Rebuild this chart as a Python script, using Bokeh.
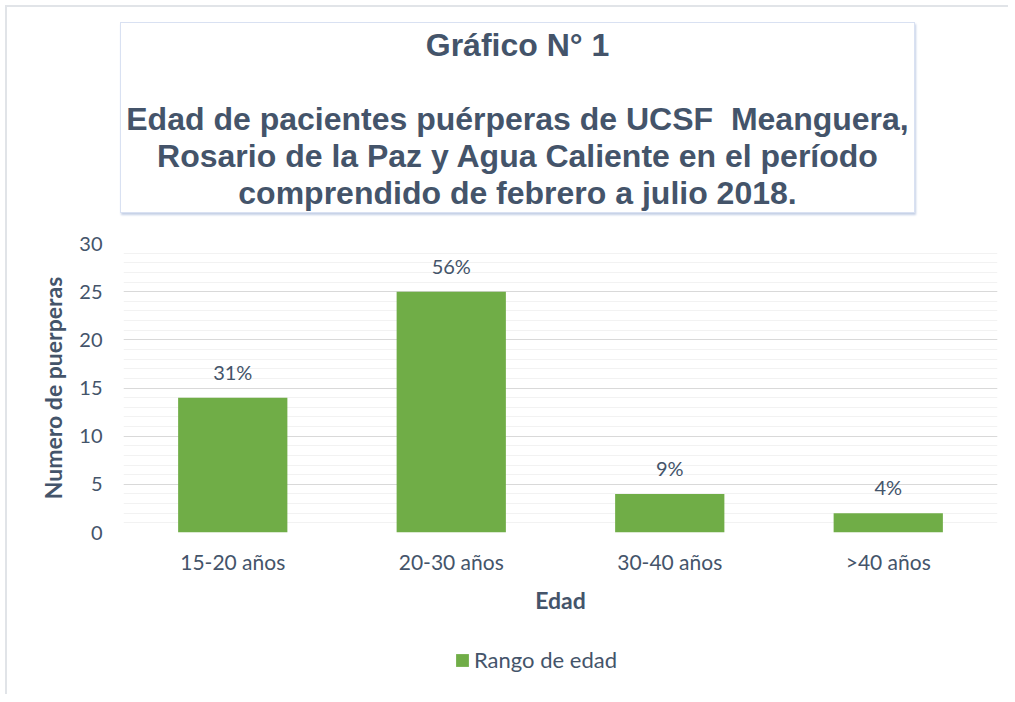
from bokeh.plotting import figure
from bokeh.models import (ColumnDataSource, FactorRange, LabelSet, Legend, Div,
                          SingleIntervalTicker, Range1d)
from bokeh.layouts import column
from bokeh.core.properties import value
from bokeh.embed import file_html
from bokeh.resources import INLINE

categories = ["15-20 años", "20-30 años", "30-40 años", ">40 años"]
counts = [14, 25, 4, 2]
percent_labels = ["31%", "56%", "9%", "4%"]
series_name = "Rango de edad"
title_lines = ["Gráfico N° 1", "",
               "Edad de pacientes puérperas de UCSF&nbsp; Meanguera,",
               "Rosario de la Paz y Agua Caliente en el período",
               "comprendido de febrero a julio 2018."]
y_label = "Numero de puerperas"
x_label = "Edad"

TXT = "#44546A"
BAR = "#70AD47"
EDGE = "#E1E4E8"

title_html = (
    '<div style="margin-left:120px; margin-top:22px; width:795px; height:191px; '
    'box-sizing:border-box; border:1px solid #D9E1F2; background:white; '
    'box-shadow:1px 2px 2px #C5D0E6; padding-top:4px; text-align:center; '
    "font-family:'Liberation Sans', Arial, sans-serif; font-weight:bold; "
    'font-size:32px; line-height:37px; color:' + TXT + '; white-space:nowrap;">'
    + "<br>".join(title_lines) + "</div>")
head = Div(text=title_html, width=1008, height=231, margin=0)

src = ColumnDataSource(dict(cat=categories, val=counts, pct=percent_labels))

p = figure(width=1008, height=394, x_range=FactorRange(*categories),
           y_range=(0, 30), output_backend="svg", toolbar_location=None,
           min_border_left=123, min_border_right=11, min_border_top=12,
           min_border_bottom=93, margin=0)
p.x_range.range_padding = 0
p.outline_line_color = None
p.background_fill_color = "white"
p.border_fill_alpha = 0

r = p.vbar(x="cat", top="val", width=0.5, source=src, fill_color=BAR,
           line_color=None)

p.yaxis.ticker = SingleIntervalTicker(interval=5, num_minor_ticks=5)
p.ygrid.grid_line_color = "#D9D9D9"
p.ygrid.minor_grid_line_color = "#F2F2F2"
p.xgrid.grid_line_color = None

for ax in (p.xaxis, p.yaxis):
    ax.axis_line_color = None
    ax.major_tick_line_color = None
    ax.minor_tick_line_color = None
    ax.major_tick_out = 0
    ax.minor_tick_out = 0
    ax.major_label_text_font = "Lato"
    ax.major_label_text_color = TXT
    ax.axis_label_text_font = "Lato"
    ax.axis_label_text_font_size = "23px"
    ax.axis_label_text_font_style = "bold"
    ax.axis_label_text_color = TXT

p.yaxis.major_label_text_font_size = "20px"
p.xaxis.major_label_text_font_size = "21px"
p.yaxis.axis_label = y_label
p.yaxis.major_label_standoff = 21
p.yaxis.axis_label_standoff = 9
p.xaxis.axis_label = x_label
p.xaxis.major_label_standoff = 16
p.xaxis.axis_label_standoff = 9

labels = LabelSet(x="cat", y="val", text="pct", source=src, text_align="center",
                  text_baseline="alphabetic", y_offset=18,
                  text_font=value("Lato"), text_font_size="20px",
                  text_color=TXT)
p.add_layout(labels)

# legend strip below the chart (its bars fall outside its own y range)
pl = figure(width=1008, height=69, output_backend="svg", toolbar_location=None,
            x_range=FactorRange(*categories), y_range=Range1d(100, 101),
            min_border=0, margin=0)
pl.axis.visible = False
pl.grid.grid_line_color = None
pl.outline_line_color = None
pl.border_fill_alpha = 0
pl.background_fill_alpha = 0
lr = pl.vbar(x="cat", top="val", width=0.5, source=src, fill_color=BAR,
             line_color=None)
legend = Legend(items=[(series_name, [lr])], location=(331, 21),
                orientation="horizontal", padding=0, margin=0,
                border_line_color=None, background_fill_alpha=0,
                glyph_width=16, glyph_height=16, label_height=20,
                label_standoff=4, label_text_font="Lato",
                label_text_font_size="22px", label_text_color=TXT)
pl.add_layout(legend, "center")

layout = column(head, p, pl, spacing=0, margin=0, styles={
    "background": (f"linear-gradient({EDGE},{EDGE}) 5px 5px / 2px 100% no-repeat, "
                   f"linear-gradient({EDGE},{EDGE}) 5px 5px / 100% 2px no-repeat")})
open("out.html", "w").write(file_html(layout, INLINE))
